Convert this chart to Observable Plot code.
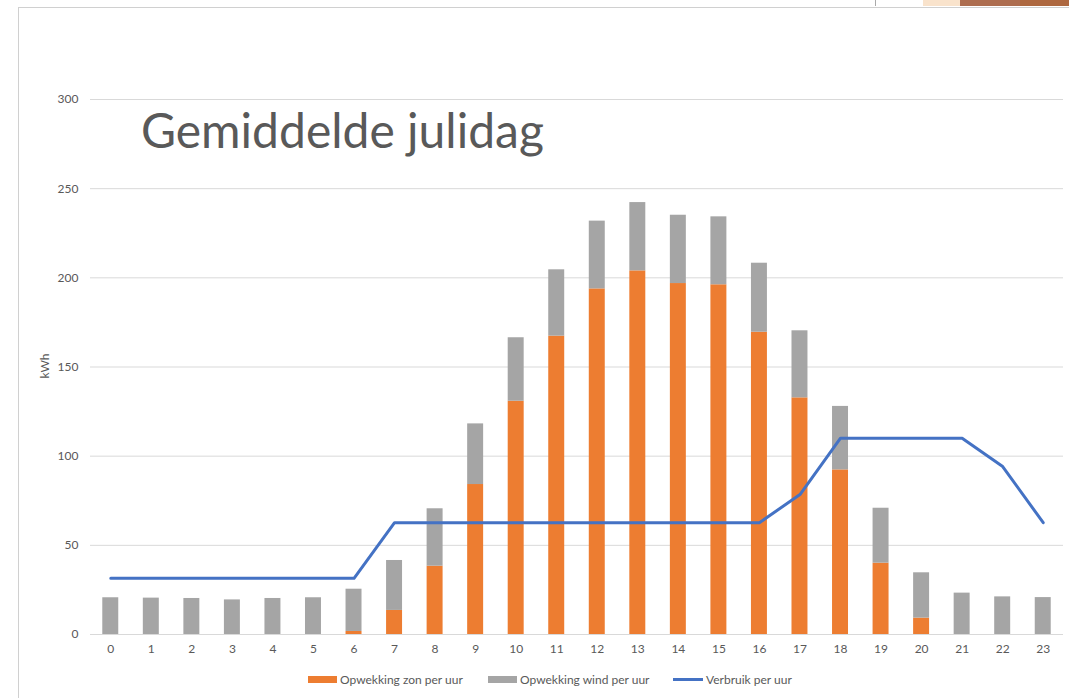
<!DOCTYPE html>
<html>
<head>
<meta charset="utf-8">
<script src="https://cdn.jsdelivr.net/npm/d3@7"></script>
<script src="https://cdn.jsdelivr.net/npm/@observablehq/plot@0.6"></script>
<style>
  html, body { margin: 0; padding: 0; background: #fff; }
  body { width: 1069px; height: 698px; position: relative; overflow: hidden; font-family: Lato, "Open Sans", sans-serif; }
  #frame { position: absolute; left: 18px; top: 7px; width: 1100px; height: 800px; border-left: 1px solid #d0d0d0; border-top: 1px solid #d0d0d0; }
  #chart { position: absolute; left: 0; top: 0; }
  #title { position: absolute; left: 141px; top: 101px; font-size: 48px; color: #595959; white-space: nowrap; }
  #ylabel { position: absolute; left: 44px; top: 366px; transform: translate(-50%, -50%) rotate(-90deg); font-size: 12px; color: #595959; }
  .leg { position: absolute; top: 672px; font-size: 12px; color: #595959; white-space: nowrap; display: flex; align-items: center; }
  .sw { display: inline-block; width: 29px; height: 7px; margin-right: 3px; }
  .ln { display: inline-block; width: 30px; height: 3px; margin-right: 3px; }
  .deco { position: absolute; top: 0; height: 6px; }
</style>
</head>
<body>
<div id="frame"></div>
<div class="deco" style="left:923px;width:40px;background:#f9e3cc;"></div>
<div class="deco" style="left:960px;width:60px;background:#ad6d4f;"></div>
<div class="deco" style="left:1020px;width:49px;background:#ae6840;"></div>
<div class="deco" style="left:875px;width:1px;background:#aaa;"></div>
<div id="chart"></div>
<div id="title">Gemiddelde julidag</div>
<div id="ylabel">kWh</div>
<div class="leg" style="left:308px;"><span class="sw" style="background:#ED7D31"></span>Opwekking zon per uur</div>
<div class="leg" style="left:488px;"><span class="sw" style="background:#A5A5A5"></span>Opwekking wind per uur</div>
<div class="leg" style="left:673px;"><span class="ln" style="background:#4472C4"></span>Verbruik per uur</div>
<script>
const hours = d3.range(0, 24);
const zon = [0, 0, 0, 0, 0, 0, 1.7, 13.5, 38.3, 84.1, 130.8, 167.3, 193.8, 203.9, 196.8, 196.1, 169.5, 132.7, 92.3, 40.0, 9.2, 0, 0, 0];
const wind = [20.6, 20.4, 20.2, 19.4, 20.2, 20.6, 23.7, 28.0, 32.2, 34.0, 35.6, 37.2, 38.0, 38.3, 38.3, 38.1, 38.7, 37.6, 35.6, 30.8, 25.4, 23.2, 21.1, 20.7];
const verbruik = [31.5, 31.5, 31.5, 31.5, 31.5, 31.5, 31.5, 62.7, 62.7, 62.7, 62.7, 62.7, 62.7, 62.7, 62.7, 62.7, 62.7, 78.5, 110.1, 110.1, 110.1, 110.1, 94.2, 62.7];
const seriesNames = ["Opwekking zon per uur", "Opwekking wind per uur", "Verbruik per uur"];
const yTicks = [0, 50, 100, 150, 200, 250, 300];

const barRows = [];
hours.forEach((h, i) => {
  barRows.push({hour: h, series: seriesNames[0], value: zon[i]});
  barRows.push({hour: h, series: seriesNames[1], value: wind[i]});
});
const lineRows = hours.map((h, i) => ({hour: h, value: verbruik[i]}));

const plot = Plot.plot({
  width: 1069,
  height: 698,
  marginLeft: 90,
  marginRight: 6,
  marginTop: 99,
  marginBottom: 64,
  style: {background: "transparent", fontFamily: "Lato, 'Open Sans', sans-serif", fontSize: "12px", color: "#595959"},
  x: {type: "band", domain: hours, paddingInner: 0.606, paddingOuter: 0.303, round: false, label: null},
  y: {domain: [0, 300], ticks: yTicks, label: null},
  color: {domain: seriesNames.slice(0, 2), range: ["#ED7D31", "#A5A5A5"]},
  marks: [
    Plot.ruleY(yTicks, {stroke: "#d9d9d9", strokeWidth: 1}),
    Plot.barY(barRows, {x: "hour", y: "value", fill: "series"}),
    Plot.line(lineRows, {x: "hour", y: "value", stroke: "#4472C4", strokeWidth: 3, strokeLinejoin: "round"}),
    Plot.axisX({tickSize: 0, tickPadding: 10, fill: "#595959", label: null}),
    Plot.axisY(yTicks, {tickSize: 0, tickPadding: 12, fill: "#595959", label: null})
  ]
});
document.getElementById("chart").appendChild(plot);
</script>
</body>
</html>
